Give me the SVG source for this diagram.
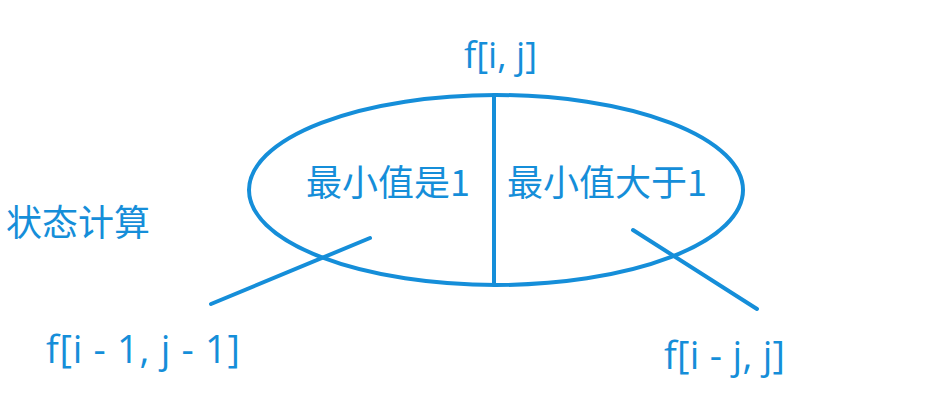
<svg xmlns="http://www.w3.org/2000/svg" width="950" height="402" viewBox="0 0 950 402">
<style>
.t{fill:#158ed9;font-family:"Open Sans","Noto Sans CJK SC",sans-serif;}
.c{fill:#158ed9;font-family:"Noto Sans CJK SC",sans-serif;}
.s{stroke:#158ed9;stroke-width:4;fill:none;stroke-linecap:round;}
</style>
<rect width="950" height="402" fill="#ffffff"/>
<g id="root">
<ellipse class="s" cx="496" cy="190" rx="247" ry="95"/>
<line class="s" x1="494" y1="95" x2="494" y2="285"/>
<text class="t" x="464" y="68" font-size="36" textLength="73" lengthAdjust="spacingAndGlyphs">f[i, j]</text>
</g>
<g id="left-case"><text class="c" x="306" y="196" font-size="36" textLength="164" lengthAdjust="spacingAndGlyphs">最小值是1</text></g>
<g id="right-case"><text class="c" x="507" y="196" font-size="36" textLength="200" lengthAdjust="spacingAndGlyphs">最小值大于1</text></g>
<g id="label"><text class="c" x="6" y="236" font-size="36" textLength="144" lengthAdjust="spacingAndGlyphs">状态计算</text></g>
<g id="left-result"><text class="t" x="46" y="363" font-size="38" textLength="194" lengthAdjust="spacing">f[i - 1, j - 1]</text></g>
<g id="right-result"><text class="t" x="664" y="369" font-size="38" textLength="121" lengthAdjust="spacing">f[i - j, j]</text></g>
<g id="connectors">
<line class="s" x1="370" y1="238" x2="211" y2="304"/>
<line class="s" x1="633" y1="230" x2="757" y2="309"/>
</g>
</svg>
